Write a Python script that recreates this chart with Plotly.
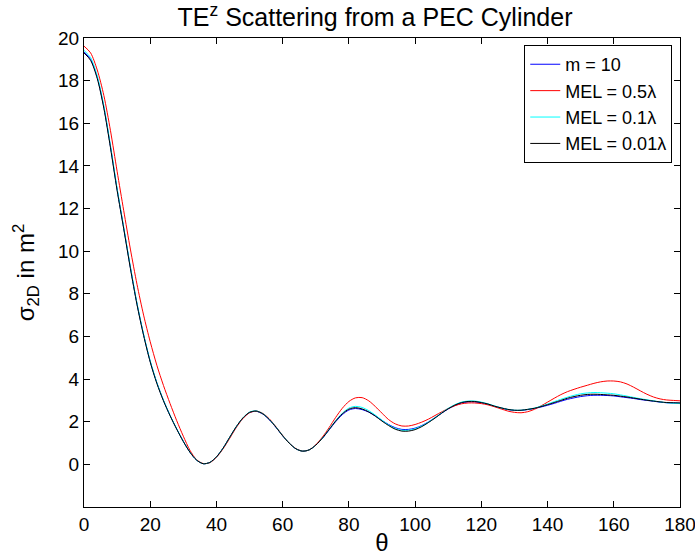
import plotly.graph_objects as go

THETA = list(range(0, 182, 2))

M10 = [
    19.35, 19.00, 18.15, 16.75, 14.90, 12.90, 11.08, 9.24, 7.53, 6.08,
    4.83, 3.83, 3.00, 2.29, 1.66, 1.08, 0.57, 0.20, 0.03, 0.09,
    0.35, 0.76, 1.26, 1.76, 2.17, 2.43, 2.49, 2.36, 2.09, 1.73,
    1.34, 0.99, 0.73, 0.62, 0.68, 0.90, 1.22, 1.61, 2.00, 2.33,
    2.55, 2.62, 2.57, 2.45, 2.27, 2.06, 1.87, 1.72, 1.64, 1.64,
    1.70, 1.82, 1.99, 2.19, 2.40, 2.60, 2.76, 2.88, 2.93, 2.93,
    2.89, 2.82, 2.72, 2.64, 2.57, 2.53, 2.53, 2.57, 2.62, 2.69,
    2.77, 2.86, 2.96, 3.05, 3.12, 3.18, 3.22, 3.24, 3.24, 3.23,
    3.21, 3.17, 3.13, 3.09, 3.04, 3.00, 2.96, 2.92, 2.89, 2.88,
    2.87,
]
MEL_05 = [
    19.62, 19.30, 18.50, 17.30, 15.65, 13.75, 11.90, 10.10, 8.45, 7.00,
    5.75, 4.65, 3.70, 2.85, 2.05, 1.32, 0.66, 0.22, 0.04, 0.08,
    0.33, 0.73, 1.22, 1.73, 2.15, 2.42, 2.50, 2.39, 2.13, 1.76,
    1.36, 1.00, 0.74, 0.62, 0.68, 0.92, 1.28, 1.72, 2.20, 2.63,
    2.95, 3.12, 3.13, 2.98, 2.71, 2.40, 2.10, 1.90, 1.80, 1.80,
    1.87, 1.98, 2.12, 2.29, 2.46, 2.62, 2.75, 2.84, 2.88, 2.88,
    2.85, 2.79, 2.70, 2.60, 2.50, 2.44, 2.42, 2.47, 2.58, 2.74,
    2.92, 3.10, 3.27, 3.41, 3.52, 3.62, 3.71, 3.80, 3.87, 3.91,
    3.91, 3.87, 3.77, 3.62, 3.45, 3.29, 3.16, 3.07, 3.02, 3.00,
    2.98,
]
MEL_01 = [
    19.42, 19.08, 18.22, 16.82, 14.95, 12.95, 11.12, 9.28, 7.57, 6.10,
    4.85, 3.84, 3.01, 2.30, 1.67, 1.08, 0.57, 0.20, 0.03, 0.09,
    0.35, 0.76, 1.27, 1.77, 2.18, 2.45, 2.51, 2.38, 2.11, 1.75,
    1.35, 1.00, 0.73, 0.62, 0.68, 0.90, 1.23, 1.64, 2.05, 2.40,
    2.64, 2.72, 2.67, 2.52, 2.31, 2.07, 1.85, 1.68, 1.60, 1.60,
    1.67, 1.80, 1.98, 2.19, 2.42, 2.63, 2.80, 2.92, 2.97, 2.97,
    2.92, 2.84, 2.74, 2.65, 2.58, 2.54, 2.54, 2.58, 2.64, 2.73,
    2.83, 2.94, 3.05, 3.15, 3.24, 3.31, 3.35, 3.37, 3.36, 3.34,
    3.31, 3.26, 3.20, 3.14, 3.08, 3.03, 2.98, 2.93, 2.89, 2.87,
    2.85,
]
MEL_001 = [
    19.30, 18.95, 18.10, 16.70, 14.85, 12.85, 11.05, 9.20, 7.50, 6.05,
    4.80, 3.80, 2.98, 2.28, 1.65, 1.07, 0.57, 0.20, 0.03, 0.09,
    0.35, 0.76, 1.27, 1.77, 2.18, 2.44, 2.50, 2.37, 2.10, 1.74,
    1.34, 0.99, 0.73, 0.62, 0.68, 0.90, 1.23, 1.63, 2.03, 2.37,
    2.59, 2.66, 2.60, 2.46, 2.26, 2.03, 1.82, 1.65, 1.56, 1.56,
    1.63, 1.77, 1.96, 2.17, 2.40, 2.61, 2.78, 2.90, 2.95, 2.95,
    2.90, 2.83, 2.73, 2.65, 2.58, 2.54, 2.54, 2.58, 2.63, 2.71,
    2.80, 2.90, 3.00, 3.10, 3.18, 3.24, 3.28, 3.29, 3.28, 3.26,
    3.24, 3.20, 3.16, 3.11, 3.06, 3.01, 2.97, 2.93, 2.90, 2.89,
    2.88,
]

SERIES = [
    ("m = 10", M10, "#0000ff"),
    ("MEL = 0.5λ", MEL_05, "#ff0000"),
    ("MEL = 0.1λ", MEL_01, "#00ffff"),
    ("MEL = 0.01λ", MEL_001, "#000000"),
]

FONT = "Liberation Sans, Arial, Helvetica, sans-serif"
WIDTH, HEIGHT = 695, 557

fig = go.Figure()
for name, values, color in SERIES:
    fig.add_trace(
        go.Scatter(
            x=THETA,
            y=values,
            name=name,
            mode="lines",
            line={"color": color, "width": 1, "shape": "spline", "smoothing": 0.8},
        )
    )

axis_common = dict(
    showline=True,
    linecolor="black",
    linewidth=1,
    mirror="ticks",
    ticks="inside",
    ticklen=6,
    tickcolor="black",
    showgrid=False,
    zeroline=False,
    automargin=False,
    ticklabeloverflow="allow",
    tickfont={"size": 19, "color": "black", "family": FONT},
)

fig.update_xaxes(
    range=[0, 180],
    tickvals=list(range(0, 181, 20)),
    title={"text": "θ", "font": {"size": 24, "color": "black", "family": FONT}, "standoff": 0},
    **axis_common,
)
fig.update_yaxes(
    range=[-2, 20],
    tickvals=list(range(0, 21, 2)),
    title={"text": "σ<sub>2D</sub> in m<sup>2</sup>", "font": {"size": 24, "color": "black", "family": FONT}, "standoff": 16},
    **axis_common,
)

fig.update_layout(
    width=WIDTH,
    height=HEIGHT,
    paper_bgcolor="white",
    plot_bgcolor="white",
    margin={"l": 84, "r": 15, "t": 38, "b": 50},
    font={"family": FONT, "color": "black"},
    title={
        "text": "TE<sup>z</sup> Scattering from a PEC Cylinder",
        "x": 375 / WIDTH,
        "xanchor": "center",
        "y": 0.984,
        "yanchor": "top",
        "font": {"size": 25, "color": "black", "family": FONT},
    },
    legend={
        "x": 0.987,
        "xanchor": "right",
        "y": 0.985,
        "yanchor": "top",
        "bgcolor": "white",
        "bordercolor": "black",
        "borderwidth": 1,
        "font": {"size": 18, "color": "black", "family": FONT},
        "tracegroupgap": 0,
    },
)

# drop the page's default 8px body margin so the figure sits flush in the window
fig.write_html(
    "out.html",
    config={"displayModeBar": False},
    post_script="document.body.style.margin = '0';",
)
